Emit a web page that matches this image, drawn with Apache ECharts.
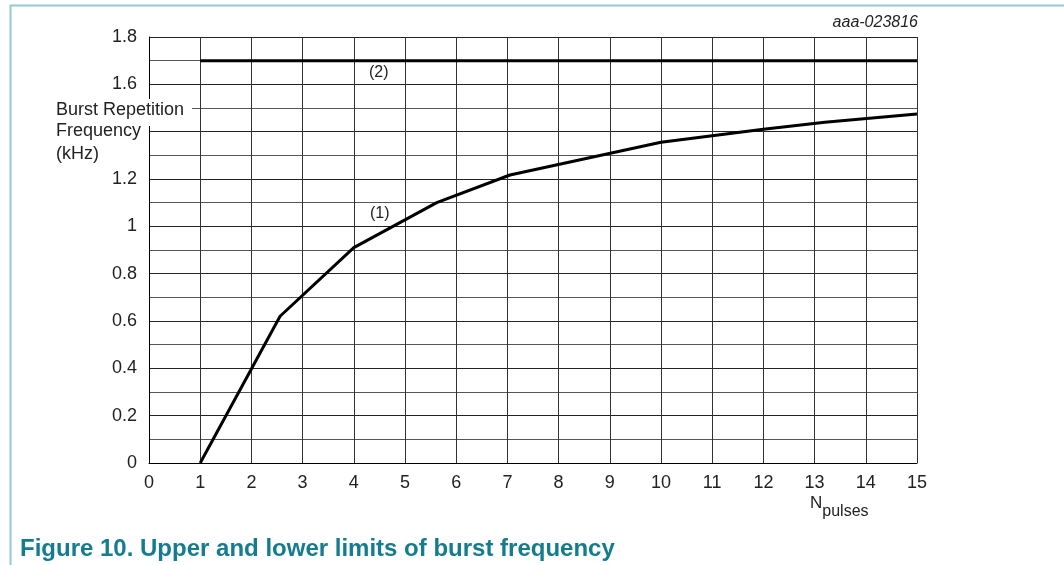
<!DOCTYPE html>
<html>
<head>
<meta charset="utf-8">
<script src="https://cdn.jsdelivr.net/npm/echarts@6/dist/echarts.min.js"></script>
<style>
html,body{margin:0;padding:0;background:#fff;}
#c{width:1064px;height:565px;}
</style>
</head>
<body>
<div id="c"></div>
<script>
// Data
const lowerN = [1, 2.56, 4, 5.62, 7.05, 10, 12, 13.2, 15];
const lowerF = [0, 0.62, 0.91, 1.1, 1.217, 1.355, 1.41, 1.44, 1.475];
const upperN = [1, 15];
const upperF = [1.7, 1.7];
const xTicks = [0,1,2,3,4,5,6,7,8,9,10,11,12,13,14,15];
const yTicks = [0,0.2,0.4,0.6,0.8,1,1.2,1.6,1.8];

const FONT = '"Liberation Sans", Arial, sans-serif';
const chart = echarts.init(document.getElementById('c'), null, {renderer:'canvas'});

const option = {
  animation: false,
  backgroundColor: '#fff',
  grid: {left:149, right:147, top:37, bottom:102, containLabel:false},
  xAxis: {
    type:'value', min:0, max:15, interval:1,
    axisLine:{show:true, lineStyle:{color:'#000', width:1}},
    axisTick:{show:false},
    axisLabel:{color:'#222', fontSize:18, fontFamily:FONT, margin:11,
      formatter: v => xTicks.includes(v) ? String(v) : ''},
    splitLine:{show:true, lineStyle:{color:'#333', width:1}}
  },
  yAxis: {
    type:'value', min:0, max:1.8, interval:0.2,
    axisLine:{show:true, lineStyle:{color:'#000', width:1}},
    axisTick:{show:false},
    axisLabel:{color:'#222', fontSize:18, fontFamily:FONT, margin:12,
      formatter: v => { const t = yTicks.find(y => Math.abs(y - v) < 1e-6); return t === undefined ? '' : String(t); }},
    splitLine:{show:true, lineStyle:{color:'#222', width:1}},
    minorTick:{show:false, splitNumber:2},
    minorSplitLine:{show:true, lineStyle:{color:'#555', width:1}}
  },
  series: [
    {type:'line', data: lowerN.map((n,i)=>[n, lowerF[i]]), showSymbol:false, symbol:'none',
     lineStyle:{color:'#000', width:3}, z:5},
    {type:'line', data: upperN.map((n,i)=>[n, upperF[i]]), showSymbol:false, symbol:'none',
     lineStyle:{color:'#000', width:3}, z:5}
  ],
  graphic: [
    {type:'line', shape:{x1:10.5, y1:5, x2:10.5, y2:565}, style:{stroke:'#93c9d5', lineWidth:2}, z:100},
    {type:'line', shape:{x1:10, y1:5.5, x2:1064, y2:5.5}, style:{stroke:'#93c9d5', lineWidth:2}, z:100},
    {type:'text', right:146, top:15, style:{text:'aaa-023816', font:'italic 16px '+FONT, fill:'#222'}, z:100},
    {type:'text', left:54, top:99, style:{text:'Burst Repetition', font:'18px '+FONT, fill:'#222',
      lineHeight:21, backgroundColor:'#fff', padding:[1,8,5,2]}, z:100},
    {type:'text', left:56, top:122, style:{text:'Frequency', font:'18px '+FONT, fill:'#222'}, z:100},
    {type:'text', left:56, top:145, style:{text:'(kHz)', font:'18px '+FONT, fill:'#222'}, z:100},
    {type:'text', left:369, top:65, style:{text:'(2)', font:'16px '+FONT, fill:'#222'}, z:100},
    {type:'text', left:370, top:206, style:{text:'(1)', font:'16px '+FONT, fill:'#222'}, z:100},
    {type:'text', left:810, top:495, style:{
      text:'{n|N}{s|pulses}',
      rich:{ n:{font:'17px '+FONT, fill:'#222', verticalAlign:'top'},
             s:{font:'16px '+FONT, fill:'#222', padding:[9,0,0,0]} }}, z:100},
    {type:'text', left:20, top:537, style:{text:'Figure 10. Upper and lower limits of burst frequency',
      font:'bold 24px '+FONT, fill:'#137c8e'}, z:100}
  ]
};
chart.setOption(option);
</script>
</body>
</html>
